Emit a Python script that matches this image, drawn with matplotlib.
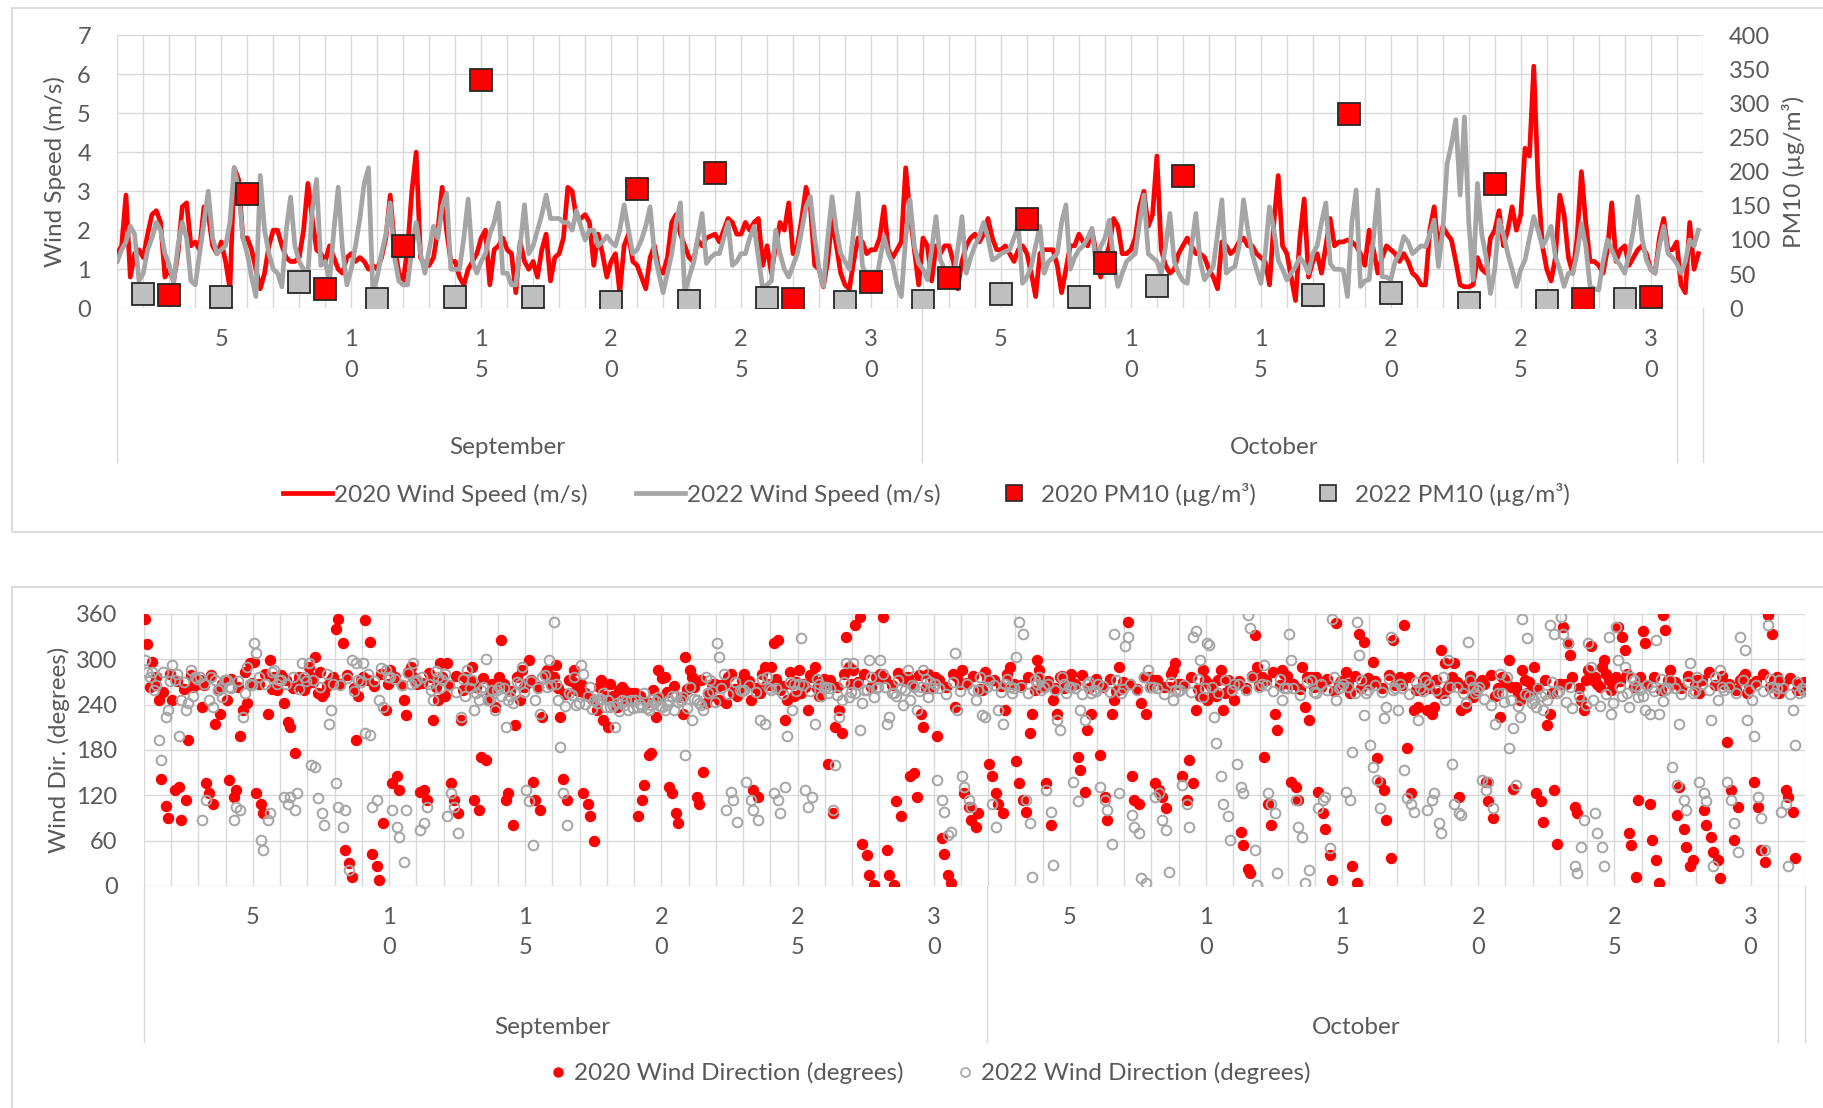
import matplotlib
matplotlib.use("Agg")
import matplotlib.pyplot as plt
import numpy as np
from matplotlib.lines import Line2D
from matplotlib.patches import Rectangle
from matplotlib.transforms import blended_transform_factory

plt.rcParams['font.family'] = ['Lato', 'DejaVu Sans']

# ---------------- data ----------------
# wind speed, 4-hourly samples starting 1 Sep 00:00 (6 per day, 61 days)
ws2020 = [
    1.4, 1.6, 2.9, 0.8, 1.4, 1.5,   1.3, 1.9, 2.4, 2.5, 2.2, 0.8,   1.0, 0.7, 1.4, 2.6, 2.7, 1.6,
    1.7, 1.5, 2.6, 2.4, 1.6, 1.4,   1.7, 1.2, 0.5, 3.6, 3.3, 1.8,   1.8, 1.5, 1.0, 0.5, 0.9, 1.6,
    2.0, 2.0, 1.6, 1.3, 1.2, 1.2,   1.3, 2.0, 3.2, 2.3, 1.5, 1.4,   1.2, 1.6, 1.3, 1.0, 0.9, 1.3,
    1.4, 1.2, 1.3, 1.2, 1.0, 1.1,   1.0, 1.3, 1.8, 2.9, 1.6, 0.9,   0.7, 1.5, 3.0, 4.0, 1.3, 1.1,
    1.1, 1.3, 2.0, 3.1, 2.0, 1.2,   1.2, 0.8, 0.6, 1.0, 1.2, 1.4,   1.8, 2.0, 0.6, 1.5, 1.6, 1.8,
    1.5, 1.4, 0.4, 1.7, 1.2, 1.0,   1.2, 0.8, 1.5, 1.9, 0.7, 1.3,   1.4, 1.8, 3.1, 3.0, 2.3, 2.3,
    2.4, 2.2, 1.1, 1.9, 1.4, 0.8,   1.2, 1.4, 0.4, 1.6, 1.9, 1.2,   1.1, 0.8, 0.5, 1.3, 1.6, 1.0,
    0.9, 1.3, 2.2, 2.4, 1.9, 1.6,   1.3, 1.2, 1.75, 1.6, 1.8, 1.85, 1.9, 1.7, 2.0, 2.3, 2.2, 1.9,
    1.9, 2.2, 2.0, 2.2, 2.3, 1.1,   1.6, 0.9, 1.6, 2.2, 2.0, 2.7,   1.4, 1.6, 2.3, 3.1, 2.6, 1.1,
    1.0, 0.55, 1.2, 2.3, 1.6, 0.9,  0.6, 0.5, 1.2, 1.8, 1.7, 1.4,   1.5, 1.5, 1.8, 2.6, 1.5, 1.3,
    1.5, 1.7, 3.6, 2.4, 1.5, 0.6,   1.8, 1.6, 0.7, 1.6, 1.4, 1.6,   1.6, 1.2, 0.5, 1.2, 1.6, 1.8,
    1.9, 1.7, 1.9, 2.3, 1.8, 1.5,   1.5, 1.6, 1.4, 1.2, 1.5, 1.6,   1.4, 0.9, 0.3, 1.4, 1.5, 1.5,
    1.5, 1.1, 0.4, 1.0, 1.6, 1.6,   1.9, 1.7, 1.6, 2.0, 1.4, 0.8,   1.2, 1.6, 2.3, 2.1, 1.4, 1.4,
    1.5, 1.8, 2.6, 3.0, 2.1, 2.4,   3.9, 1.5, 1.1, 0.9, 1.0, 1.4,   1.6, 1.8, 1.6, 1.4, 1.4, 1.3,
    1.0, 0.8, 0.5, 1.7, 1.6, 1.4,   1.5, 1.7, 1.8, 1.6, 1.6, 1.4,   1.3, 1.2, 0.6, 2.2, 3.4, 1.6,
    1.4, 0.8, 0.2, 1.8, 2.8, 0.8,   1.2, 1.4, 0.9, 1.6, 2.3, 1.6,   1.7, 1.7, 1.75, 1.7, 1.6, 1.4,
    1.1, 2.0, 1.5, 0.9, 1.3, 1.6,   1.5, 1.4, 1.2, 1.4, 1.2, 0.9,   0.8, 0.6, 0.6, 2.0, 2.6, 1.5,
    2.1, 1.9, 1.75, 1.2, 0.6, 0.55, 0.55, 0.6, 1.3, 1.0, 0.9, 1.8,  2.0, 2.5, 1.6, 2.0, 2.6, 2.0,
    2.4, 4.1, 3.9, 6.2, 3.2, 1.6,   1.0, 0.7, 1.3, 2.9, 2.4, 1.3,   0.9, 1.8, 3.5, 2.2, 1.2, 1.2,
    1.1, 0.9, 1.5, 2.7, 1.2, 1.5,   1.6, 1.1, 1.3, 1.5, 1.6, 1.4,   1.0, 0.9, 1.8, 2.3, 1.5, 1.5,
    1.7, 0.6, 0.4, 2.2, 1.0, 1.4,
]
ws2022 = [
    1.2, 1.5, 1.7, 2.1, 1.9, 0.7,   0.9, 1.5, 1.8, 2.2, 2.0, 1.4,   1.1, 0.65, 1.6, 2.2, 1.8, 0.7,
    0.6, 1.4, 2.2, 3.0, 1.8, 1.4,   1.5, 1.6, 2.2, 3.6, 3.0, 1.8,   1.4, 0.8, 0.3, 3.4, 2.0, 1.4,
    1.0, 0.9, 0.55, 2.0, 2.85, 1.6, 1.2, 1.0, 0.9, 2.5, 3.3, 1.1,   1.2, 0.7, 2.0, 3.1, 1.5, 0.6,
    1.0, 1.6, 2.3, 3.2, 3.6, 0.4,   0.8, 1.4, 1.9, 2.7, 1.3, 0.7,   0.6, 0.6, 1.5, 2.2, 1.4, 0.9,
    1.5, 2.1, 1.8, 2.6, 2.95, 1.0,  1.0, 1.0, 1.8, 2.8, 1.2, 0.9,   1.2, 1.4, 1.9, 2.2, 2.7, 0.9,
    0.9, 0.6, 0.6, 1.6, 2.65, 1.4,  1.6, 2.0, 2.4, 2.9, 2.3, 2.3,   2.3, 2.2, 2.2, 2.0, 2.5, 2.1,
    1.75, 2.0, 2.0, 1.6, 1.7, 1.85, 1.7, 1.6, 2.0, 2.65, 2.0, 1.4,  1.5, 1.75, 2.1, 2.6, 1.4, 0.9,
    0.4, 0.9, 1.4, 2.2, 2.7, 0.4,   0.8, 1.15, 1.8, 2.43, 1.15, 1.3, 1.4, 1.4, 1.8, 2.2, 1.1, 1.2,
    1.4, 1.4, 1.8, 2.1, 1.3, 0.5,   0.6, 0.7, 2.0, 1.4, 1.0, 0.8,   1.1, 1.4, 2.0, 2.6, 2.86, 1.8,
    1.0, 0.56, 1.8, 2.86, 2.0, 1.4, 1.2, 1.0, 2.0, 2.95, 1.1, 0.8,  0.8, 0.56, 1.2, 1.84, 1.4, 1.15,
    0.6, 0.3, 1.8, 2.78, 1.6, 1.15, 1.0, 0.73, 1.5, 2.35, 1.24, 1.0, 0.8, 0.73, 1.5, 2.35, 0.9, 1.3,
    1.6, 1.84, 2.2, 1.8, 1.24, 1.3, 1.4, 1.45, 1.5, 1.8, 2.1, 0.64, 0.8, 1.07, 1.6, 2.1, 0.9, 1.2,
    1.3, 1.4, 2.2, 2.65, 1.0, 1.3,  1.5, 1.6, 1.8, 2.05, 1.07, 1.58, 1.8, 2.26, 1.2, 0.56, 0.9, 1.2,
    1.3, 1.4, 2.2, 2.9, 1.4, 1.3,   1.2, 0.9, 1.6, 2.43, 1.2, 0.9,  0.7, 0.64, 1.6, 2.43, 1.2, 0.73,
    0.9, 1.07, 1.9, 2.78, 0.9, 1.0, 1.07, 1.6, 2.78, 2.0, 1.4, 1.0, 0.64, 1.4, 2.6, 2.0, 1.24, 1.0,
    0.73, 0.9, 1.07, 1.3, 1.15, 0.9, 1.4, 1.6, 2.2, 2.7, 1.15, 1.0, 1.0, 0.98, 0.3, 2.2, 3.03, 0.56,
    0.7, 0.73, 1.8, 3.03, 0.81, 0.8, 0.73, 1.2, 1.4, 1.84, 1.7, 1.4, 1.5, 1.6, 1.58, 1.9, 2.26, 1.07,
    2.0, 3.7, 4.2, 4.83, 2.9, 4.9,  2.2, 0.73, 3.2, 1.9, 1.3, 0.38, 1.0, 2.26, 1.9, 1.4, 1.0, 0.56,
    1.0, 1.24, 1.8, 2.35, 2.0, 1.58, 1.8, 2.1, 1.32, 1.0, 0.56, 0.9, 0.9, 1.4, 2.18, 1.6, 0.56, 0.5,
    0.47, 1.2, 1.75, 1.5, 1.24, 1.1, 0.9, 1.4, 2.0, 2.86, 1.8, 1.24, 1.0, 0.9, 1.6, 2.1, 1.4, 1.3,
    1.15, 0.9, 1.2, 1.75, 1.6, 2.0,
]

# PM10 samples: day offset from 1 Sep 00:00 and concentration (µg/m³)
pm2020_day = [2, 5, 8, 11, 14, 20, 23, 26, 29, 32, 35, 38, 41, 47.4, 53, 56.4, 59]
pm2020 = [19, 168, 28, 91, 334, 174, 198, 13, 38, 44, 130, 67, 193, 284, 182, 14, 17]
pm2022_day = [1, 4, 7, 10, 13, 16, 19, 22, 25, 28, 31, 34, 37, 40, 46, 49, 52, 55, 58]
pm2022 = [21, 17, 39, 13, 16, 17, 8.5, 11, 15, 9, 11, 21, 17, 32, 20, 22, 8, 11, 14]

# wind direction, 8 readings per day (61 days)
wd2020 = [
    354, 320, 297, 268, 246, 142, 106, 90,   246, 127, 131, 87, 114, 193, 264, 273,
    273, 237, 136, 123, 109, 215, 228, 268,  246, 140, 118, 127, 198, 233, 242, 295,
    297, 123, 109, 96, 228, 299, 277, 259,   279, 242, 217, 211, 176, 268, 273, 259,
    290, 277, 303, 255, 251, 255, 268, 273,  340, 354, 321, 48, 30, 12, 193, 251,
    277, 352, 323, 43, 26, 8, 83, 233,       286, 136, 145, 127, 246, 226, 290, 277,
    268, 125, 127, 114, 277, 220, 246, 295,  251, 295, 136, 114, 96, 220, 277, 265,
    290, 114, 101, 171, 167, 246, 268, 237,  277, 325, 114, 123, 81, 213, 246, 286,
    268, 299, 138, 114, 101, 224, 286, 277,  277, 292, 224, 142, 114, 273, 286, 260,
    268, 123, 109, 92, 59, 233, 273, 220,    211, 268, 251, 237, 264, 259, 246, 255,
    255, 92, 114, 134, 173, 176, 224, 286,   275, 277, 131, 123, 96, 83, 228, 303,
    286, 277, 118, 109, 151, 242, 251, 268,  264, 246, 268, 242, 281, 255, 251, 262,
    281, 268, 246, 127, 118, 255, 290, 268,  290, 321, 325, 259, 220, 246, 268, 251,
    286, 255, 264, 233, 277, 290, 251, 270,  268, 162, 96, 211, 233, 202, 330, 290,
    286, 345, 356, 56, 41, 15, 1, 277,       281, 356, 48, 15, 1, 112, 92, 277,
    277, 145, 149, 118, 228, 211, 281, 262,  277, 198, 63, 43, 15, 4, 237, 277,
    286, 123, 105, 87, 78, 96, 259, 283,     162, 145, 123, 109, 96, 233, 290, 268,
    165, 136, 114, 98, 202, 228, 299, 286,   264, 136, 81, 246, 228, 277, 262, 275,
    281, 268, 171, 153, 125, 206, 228, 268,  268, 173, 118, 87, 228, 246, 290, 262,
    268, 350, 145, 114, 109, 242, 228, 277,  273, 136, 127, 118, 103, 264, 286, 295,
    268, 145, 114, 167, 136, 233, 251, 286,  246, 268, 255, 251, 286, 233, 273, 262,
    246, 268, 72, 54, 23, 17, 332, 290,      277, 171, 109, 81, 228, 206, 286, 281,
    268, 138, 131, 114, 290, 237, 220, 277,  277, 125, 96, 76, 41, 8, 348, 268,
    268, 283, 255, 26, 4, 334, 323, 270,     268, 297, 169, 138, 127, 87, 37, 325,
    268, 277, 345, 182, 123, 233, 237, 259,  277, 233, 228, 237, 255, 312, 295, 262,
    277, 295, 118, 233, 237, 268, 250, 260,  264, 273, 138, 112, 90, 251, 224, 277,
    268, 299, 129, 264, 246, 286, 255, 270,  290, 123, 112, 85, 213, 228, 127, 56,
    268, 343, 321, 306, 105, 96, 246, 233,   286, 317, 277, 268, 290, 299, 273, 260,
    277, 343, 330, 312, 70, 54, 12, 114,     337, 321, 109, 61, 34, 4, 359, 339,
    286, 268, 94, 131, 76, 52, 26, 34,       273, 255, 101, 81, 65, 45, 34, 10,
    268, 191, 127, 61, 105, 273, 281, 255,   268, 138, 105, 48, 32, 359, 334, 273,
    255, 264, 127, 118, 98, 37, 268, 260,
]
# further readings per day inside the dense 240-300 band (4 per day)
wd2020_band = [
    263, 276, 257, 281,  271, 261, 279, 267,  266, 279, 259, 272,  274, 263, 283, 269,
    268, 281, 261, 276,  273, 262, 277, 266,  270, 283, 265, 276,  267, 279, 262, 273,
    272, 265, 281, 268,  276, 266, 283, 271,  269, 282, 263, 277,  266, 278, 259, 272,
    263, 275, 257, 268,  268, 258, 277, 264,  273, 264, 281, 268,  262, 254, 271, 258,
    256, 247, 263, 252,  251, 259, 246, 254,  252, 244, 259, 249,  257, 265, 250, 261,
    263, 273, 256, 268,  266, 277, 261, 272,  271, 262, 281, 266,  274, 265, 283, 270,
    268, 279, 262, 274,  273, 264, 281, 268,  270, 281, 264, 276,  275, 266, 282, 271,
    268, 279, 262, 274,  272, 263, 280, 268,  269, 278, 261, 274,  272, 265, 281, 268,
    266, 277, 260, 272,  271, 262, 278, 266,  268, 279, 262, 274,  264, 274, 258, 270,
    268, 261, 277, 264,  273, 264, 281, 268,  266, 276, 261, 272,  262, 273, 256, 268,
    271, 262, 278, 266,  272, 283, 266, 278,  268, 261, 276, 264,  264, 274, 258, 271,
    268, 278, 262, 275,  271, 262, 279, 266,  266, 277, 260, 272,  262, 273, 256, 268,
    270, 262, 278, 267,  268, 279, 262, 274,  264, 256, 272, 260,  262, 273, 256, 268,
    268, 277, 262, 272,  273, 264, 281, 268,  271, 281, 264, 276,  266, 277, 260, 272,
    270, 262, 278, 266,  272, 283, 266, 278,  268, 260, 276, 264,  271, 281, 264, 276,
    266, 275, 260, 270,
]
wd2022 = [
    299, 283, 283, 259, 193, 167, 224, 233,  292, 273, 198, 246, 233, 242, 251, 277,
    277, 87, 114, 246, 237, 273, 262, 250,   273, 264, 87, 105, 101, 224, 290, 268,
    321, 308, 61, 48, 87, 96, 286, 268,      273, 118, 109, 118, 101, 123, 295, 277,
    295, 160, 158, 116, 96, 81, 215, 233,    136, 105, 78, 101, 21, 299, 295, 273,
    295, 202, 200, 105, 114, 246, 237, 286,  277, 101, 78, 65, 32, 101, 268, 295,
    273, 74, 83, 105, 259, 246, 277, 262,    281, 92, 123, 105, 70, 224, 251, 286,
    273, 233, 246, 259, 301, 246, 259, 233,  264, 251, 211, 246, 242, 255, 268, 290,
    127, 112, 54, 246, 228, 277, 264, 299,   350, 268, 184, 123, 81, 255, 277, 240,
    292, 281, 251, 264, 246, 242, 248, 255,  246, 237, 211, 242, 246, 240, 233, 246,
    246, 237, 237, 255, 233, 240, 245, 250,  237, 233, 246, 251, 251, 244, 250, 173,
    264, 220, 246, 242, 233, 277, 273, 258,  321, 303, 281, 101, 125, 114, 85, 259,
    259, 138, 114, 101, 87, 220, 215, 277,   259, 123, 114, 96, 131, 198, 233, 268,
    268, 328, 127, 105, 118, 215, 268, 251,  264, 255, 101, 160, 224, 246, 295, 250,
    295, 255, 206, 242, 259, 299, 250, 262,  299, 281, 215, 224, 255, 251, 262, 240,
    286, 246, 264, 233, 264, 286, 250, 270,  268, 140, 114, 98, 67, 72, 308, 233,
    145, 131, 114, 105, 246, 259, 226, 224,  273, 109, 78, 233, 215, 268, 264, 255,
    303, 350, 334, 114, 83, 12, 268, 277,    264, 127, 98, 28, 220, 206, 268, 255,
    264, 138, 112, 233, 220, 268, 255, 260,  268, 131, 114, 101, 56, 334, 123, 255,
    317, 330, 94, 78, 70, 10, 4, 286,        264, 118, 123, 87, 74, 19, 246, 260,
    259, 134, 109, 78, 330, 337, 299, 250,   321, 319, 224, 189, 145, 109, 92, 61,
    268, 162, 131, 123, 359, 341, 48, 1,     268, 292, 123, 109, 96, 17, 246, 262,
    334, 299, 114, 78, 65, 4, 21, 273,       255, 103, 114, 118, 50, 354, 246, 262,
    268, 125, 114, 178, 350, 306, 226, 255,  187, 158, 140, 103, 222, 237, 330, 260,
    233, 268, 153, 116, 109, 98, 220, 262,   273, 101, 114, 123, 83, 70, 246, 299,
    162, 109, 96, 94, 242, 323, 264, 255,    264, 140, 127, 138, 103, 215, 281, 255,
    277, 182, 209, 134, 224, 354, 328, 251,  246, 237, 251, 233, 246, 345, 334, 255,
    356, 334, 321, 264, 26, 17, 52, 87,      321, 290, 96, 70, 52, 26, 330, 228,
    343, 299, 251, 290, 237, 277, 265, 250,  251, 233, 228, 264, 325, 228, 245, 260,
    273, 158, 134, 215, 114, 101, 295, 255,  277, 138, 123, 112, 220, 26, 246, 286,
    259, 138, 114, 83, 45, 330, 312, 220,    246, 198, 118, 90, 48, 345, 264, 255,
    273, 98, 109, 26, 233, 187, 255, 262,
]
wd2022_band = [
    276, 266, 283, 271,  281, 270, 286, 274,  268, 277, 260, 272,  262, 271, 255, 266,
    276, 268, 283, 272,  268, 276, 261, 271,  273, 264, 281, 268,  266, 275, 258, 270,
    281, 271, 288, 276,  274, 266, 282, 270,  277, 268, 285, 272,  266, 257, 274, 262,
    255, 264, 248, 259,  262, 252, 270, 257,  271, 262, 279, 266,  246, 238, 253, 242,
    241, 234, 248, 237,  238, 232, 245, 236,  241, 235, 248, 238,  239, 233, 246, 236,
    248, 240, 255, 244,  262, 254, 270, 258,  266, 257, 274, 262,  262, 254, 270, 258,
    266, 258, 274, 262,  262, 253, 270, 257,  268, 259, 276, 263,  264, 255, 272, 260,
    266, 258, 274, 262,  262, 254, 270, 258,  268, 259, 276, 264,  266, 257, 274, 262,
    264, 256, 272, 260,  268, 260, 276, 264,  262, 254, 270, 258,  265, 257, 273, 261,
    268, 260, 276, 264,  262, 254, 270, 258,  266, 257, 274, 262,  264, 255, 272, 260,
    268, 259, 276, 264,  266, 258, 274, 262,  262, 253, 270, 257,  268, 260, 276, 264,
    264, 256, 272, 260,  266, 257, 274, 262,  262, 254, 270, 258,  268, 260, 276, 264,
    264, 256, 272, 260,  248, 240, 256, 244,  246, 238, 254, 242,  262, 254, 270, 258,
    244, 236, 252, 240,  246, 238, 254, 242,  264, 256, 272, 260,  266, 258, 274, 262,
    262, 254, 270, 258,  268, 260, 276, 264,  264, 256, 272, 260,  266, 258, 274, 262,
    262, 254, 270, 258,
]

n_days = 61
sept_days = 30
day_ticks = [5, 10, 15, 20, 25, 30]
months = ["September", "October"]

# ---------------- styling ----------------
RED = '#FF0000'
GRAY = '#A5A5A5'
GRID = '#D9D9D9'
TXT = '#595959'
FS = 17.5
TFS = 17

W, H = 1824, 1108
fig = plt.figure(figsize=(W / 100, H / 100), dpi=100)

# chart-area frames
fig.patches.append(Rectangle((12 / W, 1 - 532 / H), 1.1, (532 - 8) / H, transform=fig.transFigure,
                             fill=False, ec=GRID, lw=1.3))
fig.patches.append(Rectangle((12 / W, -0.05), 1.1, 0.05 + (1108 - 587) / H, transform=fig.transFigure,
                             fill=False, ec=GRID, lw=1.3))


def style_axis(ax):
    for s in ax.spines.values():
        s.set_visible(False)
    ax.set_xlim(0, n_days)
    ax.set_xticks(np.arange(0, n_days + 1))
    ax.tick_params(axis='x', length=0, labelbottom=False)
    ax.tick_params(axis='y', length=0, labelsize=TFS, labelcolor=TXT, pad=19)
    ax.grid(True, color=GRID, lw=1.0)
    ax.set_axisbelow(True)


def category_labels(ax, y_row1, y_row2, y_month, y_sep_bottom):
    tr = blended_transform_factory(ax.transData, fig.transFigure)
    for off in [0, sept_days]:
        for d in day_ticks:
            x = off + d - 1
            s = str(d)
            ax.text(x, y_row1, s[0], transform=tr, ha='center', va='center', fontsize=TFS, color=TXT)
            if len(s) > 1:
                ax.text(x, y_row2, s[1], transform=tr, ha='center', va='center', fontsize=TFS, color=TXT)
    ax.text(sept_days / 2, y_month, months[0], transform=tr, ha='center', va='center', fontsize=FS, color=TXT)
    ax.text((sept_days + n_days - 2) / 2, y_month, months[1], transform=tr, ha='center', va='center',
            fontsize=FS, color=TXT)
    y_axis = ax.get_position().y0
    for x in [0, sept_days + 0.95, n_days - 1, n_days]:
        ax.add_line(Line2D([x, x], [y_axis, y_sep_bottom], transform=tr, color=GRID, lw=1.0, clip_on=False))


def interleave(main, extra, n_main=8, n_extra=4):
    a = np.asarray(main, float).reshape(-1, n_main)
    b = np.asarray(extra, float).reshape(-1, n_extra)
    out = []
    for ra, rb in zip(a, b):
        row = []
        for k in range(n_extra):
            row += list(ra[2 * k:2 * k + 2]) + [rb[k]]
        out.append(row)
    return np.array(out).ravel()


# ---------------- top chart ----------------
t_ws = np.arange(len(ws2020)) / 6.0
ax1 = fig.add_axes([117.3 / W, 1 - 308.3 / H, 1585.4 / W, 273.3 / H])
style_axis(ax1)
ax1.plot(t_ws, ws2020, color=RED, lw=3.4, solid_joinstyle='round', zorder=3)
ax1.plot(t_ws, ws2022, color=GRAY, lw=3.4, solid_joinstyle='round', zorder=4)
ax1.set_ylim(0, 7)
ax1.set_yticks(range(0, 8))
ax1.set_ylabel("Wind Speed (m/s)", fontsize=FS, color=TXT)
ax1.yaxis.set_label_coords(-0.0324, 0.5)

ax2 = ax1.twinx()
for s in ax2.spines.values():
    s.set_visible(False)
ax2.set_ylim(0, 400)
ax2.set_yticks(range(0, 401, 50))
ax2.tick_params(axis='y', length=0, labelsize=TFS, labelcolor=TXT, pad=19)
ax2.plot(pm2022_day, pm2022, ls='none', marker='s', ms=16, mfc='#BFBFBF', mec='#262626', mew=1.3, zorder=5)
ax2.plot(pm2020_day, pm2020, ls='none', marker='s', ms=16, mfc=RED, mec='#262626', mew=1.3, zorder=5)
ax2.set_ylabel("PM10 (µg/m³)", fontsize=FS, color=TXT)
ax2.yaxis.set_label_coords(1.050, 0.5)

category_labels(ax1, 1 - 340 / H, 1 - 370 / H, 1 - 447 / H, 1 - 462 / H)

h_top = [
    Line2D([], [], color=RED, lw=3.4),
    Line2D([], [], color=GRAY, lw=3.4),
    Line2D([], [], ls='none', marker='s', ms=11, mfc=RED, mec='#262626', mew=1.2),
    Line2D([], [], ls='none', marker='s', ms=11, mfc='#BFBFBF', mec='#262626', mew=1.2),
]
l_top = ["2020 Wind Speed (m/s)", "2022 Wind Speed (m/s)", "2020 PM10 (µg/m³)", "2022 PM10 (µg/m³)"]
fig.legend(h_top, l_top, loc='center', bbox_to_anchor=(0.508, 1 - 494 / H), ncol=4, frameon=False,
           fontsize=FS, labelcolor=TXT, handlelength=2.0, handletextpad=0.1, columnspacing=2.0)

# ---------------- bottom chart ----------------
wd20 = interleave(wd2020, wd2020_band)
wd22 = interleave(wd2022, wd2022_band)
t_wd = (np.arange(len(wd20)) + 0.5) / 12.0
ax3 = fig.add_axes([144 / W, 1 - 886 / H, 1661 / W, 272 / H])
style_axis(ax3)
ax3.set_ylim(0, 360)
ax3.set_yticks(range(0, 361, 60))
ax3.plot(t_wd, wd20, ls='none', marker='o', ms=7.4, mfc=RED, mec=RED, mew=0.8, zorder=3)
ax3.plot(t_wd, wd22, ls='none', marker='o', ms=7.0, mfc='none', mec=GRAY, mew=1.4, zorder=4)
ax3.set_ylabel("Wind Dir. (degrees)", fontsize=FS, color=TXT)
ax3.yaxis.set_label_coords(-0.0446, 0.5)

category_labels(ax3, 1 - 918 / H, 1 - 948 / H, 1 - 1027 / H, 1 - 1042 / H)

h_bot = [
    Line2D([], [], ls='none', marker='o', ms=6.5, mfc=RED, mec=RED),
    Line2D([], [], ls='none', marker='o', ms=6.5, mfc='none', mec=GRAY, mew=1.2),
]
l_bot = ["2020 Wind Direction (degrees)", "2022 Wind Direction (degrees)"]
fig.legend(h_bot, l_bot, loc='center', bbox_to_anchor=(0.51, 1 - 1073 / H), ncol=2, frameon=False,
           fontsize=FS, labelcolor=TXT, handlelength=0.7, handletextpad=0.3, columnspacing=2.2)

fig.savefig("out.png", dpi=100)
